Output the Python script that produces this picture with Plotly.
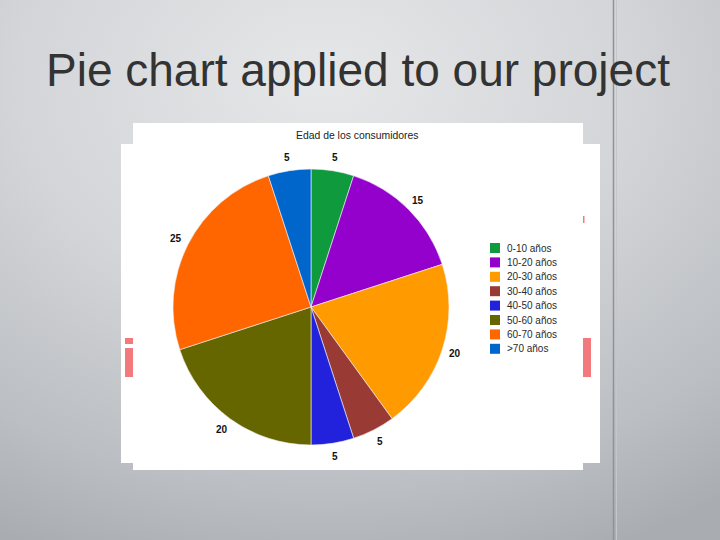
import base64
import math
import plotly.graph_objects as go

# ---- data ----
age_groups = ["0-10 años", "10-20 años", "20-30 años", "30-40 años",
              "40-50 años", "50-60 años", "60-70 años", ">70 años"]
consumers = [5, 15, 20, 5, 5, 20, 25, 5]
slice_colors = ["#0f9a3e", "#9400cc", "#ff9a00", "#9a3a34",
                "#2222dd", "#666600", "#ff6600", "#0066cc"]
slide_title = "Pie chart applied to our project"
chart_title = "Edad de los consumidores"

W, H = 720, 540


def px(x):
    return x / W


def py(y):
    return 1 - y / H


# slide background gradient as svg
svg = f'''<svg xmlns="http://www.w3.org/2000/svg" width="{W}" height="{H}" viewBox="0 0 {W} {H}" preserveAspectRatio="none">
<defs><radialGradient id="g" cx="0.45" cy="0.15" r="0.95" fx="0.45" fy="0.15">
<stop offset="0" stop-color="#e6e7e9"/>
<stop offset="0.45" stop-color="#d3d5d8"/>
<stop offset="0.8" stop-color="#bbbec2"/>
<stop offset="1" stop-color="#a9acb1"/>
</radialGradient></defs>
<rect width="{W}" height="{H}" fill="url(#g)"/>
</svg>'''
bg_src = "data:image/svg+xml;base64," + base64.b64encode(svg.encode()).decode()

fig = go.Figure()

cx, cy, r = 311, 307, 138
fig.add_trace(go.Pie(
    labels=age_groups,
    values=consumers,
    sort=False,
    direction="clockwise",
    rotation=0,
    marker=dict(colors=slice_colors, line=dict(color="#f4f4f4", width=0.6)),
    textinfo="none",
    hoverinfo="label+value",
    domain=dict(x=[px(cx - r), px(cx + r)], y=[py(cy + r), py(cy - r)]),
    showlegend=False,
))

shapes = []
# back white picture
shapes.append(dict(type="rect", xref="paper", yref="paper",
                   x0=px(121), x1=px(600), y0=py(463), y1=py(144),
                   fillcolor="#ffffff", line=dict(width=0), layer="below"))
# pink fragments of background picture
pink = "#f27a7d"
for (x0, x1, y0, y1) in [(125, 133, 338, 344), (125, 133, 348, 377),
                         (583, 591, 338, 377), (583, 584.5, 216, 223)]:
    shapes.append(dict(type="rect", xref="paper", yref="paper",
                       x0=px(x0), x1=px(x1), y0=py(y1), y1=py(y0),
                       fillcolor=pink, line=dict(width=0), layer="below"))
# front white chart picture
shapes.append(dict(type="rect", xref="paper", yref="paper",
                   x0=px(133), x1=px(583), y0=py(470), y1=py(123),
                   fillcolor="#ffffff", line=dict(width=0), layer="below"))
# vertical slide lines
shapes.append(dict(type="line", xref="paper", yref="paper",
                   x0=px(613.5), x1=px(613.5), y0=0, y1=1,
                   line=dict(color="#8f9297", width=1.5), layer="below"))
shapes.append(dict(type="line", xref="paper", yref="paper",
                   x0=px(616.5), x1=px(616.5), y0=0, y1=1,
                   line=dict(color="#c4c6ca", width=1), layer="below"))

annotations = [
    dict(text=slide_title, xref="paper", yref="paper", x=px(44), y=py(69.5),
         xanchor="left", yanchor="middle", showarrow=False,
         font=dict(family="Liberation Sans, Arial", size=46, color="#333333")),
    dict(text=chart_title, xref="paper", yref="paper", x=px(357), y=py(136),
         xanchor="center", yanchor="middle", showarrow=False,
         font=dict(family="Liberation Sans, Arial", size=10.4, color="#222222")),
]

# value labels outside each slice, at the slice's mid angle
total = sum(consumers)
cum = 0
label_r = 151
for v in consumers:
    mid = (cum + v / 2) / total * 2 * math.pi
    cum += v
    lx = cx + label_r * math.sin(mid)
    ly = cy - label_r * math.cos(mid)
    annotations.append(dict(text=f"<b>{v}</b>", xref="paper", yref="paper",
                            x=px(lx), y=py(ly), xanchor="center", yanchor="middle",
                            showarrow=False,
                            font=dict(family="Liberation Sans, Arial", size=10,
                                      color="#111111")))

# legend drawn as swatches + labels
leg_x, leg_y0, leg_dy = 490, 248, 14.4
for i, (lab, col) in enumerate(zip(age_groups, slice_colors)):
    yc = leg_y0 + i * leg_dy
    shapes.append(dict(type="rect", xref="paper", yref="paper",
                       x0=px(leg_x), x1=px(leg_x + 10), y0=py(yc + 5), y1=py(yc - 5),
                       fillcolor=col, line=dict(width=0), layer="above"))
    annotations.append(dict(text=lab, xref="paper", yref="paper",
                            x=px(leg_x + 15), y=py(yc), xanchor="left",
                            yanchor="middle", showarrow=False,
                            font=dict(family="Liberation Sans, Arial", size=10,
                                      color="#2a2a2a")))

fig.update_layout(
    width=W, height=H,
    margin=dict(l=0, r=0, t=0, b=0),
    paper_bgcolor="#d3d5d8",
    images=[dict(source=bg_src, xref="paper", yref="paper", x=0, y=1,
                 sizex=1, sizey=1, xanchor="left", yanchor="top",
                 sizing="stretch", layer="below")],
    shapes=shapes,
    annotations=annotations,
    showlegend=False,
)

fig.write_html("out.html", config={"displayModeBar": False},
               post_script="document.body.style.margin='0';document.body.style.padding='0';")
